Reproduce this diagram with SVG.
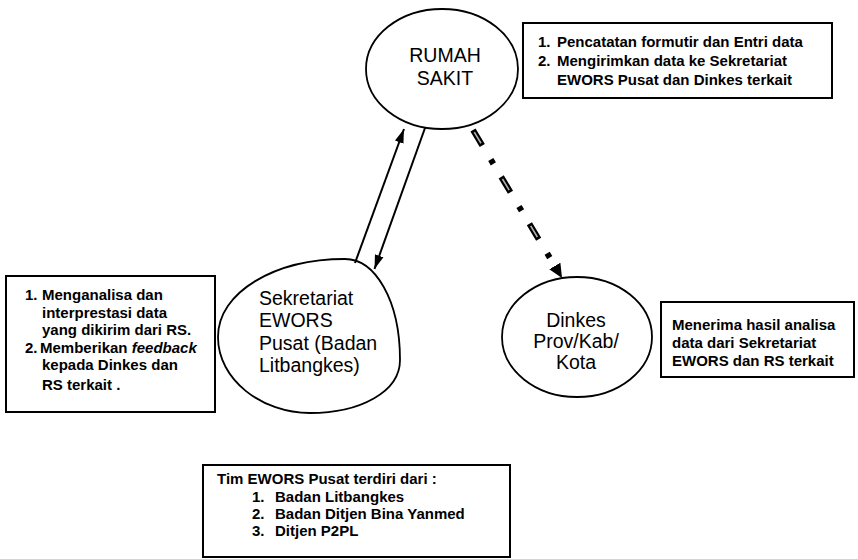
<svg xmlns="http://www.w3.org/2000/svg" width="858" height="559" viewBox="0 0 858 559">
  <style>
    .bg { fill: #ffffff; }
    .node { fill: none; stroke: #000; stroke-width: 1.8; }
    .box { fill: none; stroke: #000; stroke-width: 2; }
    .etext { font-family: "Liberation Sans", Arial, sans-serif; font-size: 19.5px; fill: #000; }
    .btext { font-family: "Liberation Sans", Arial, sans-serif; font-size: 15px; font-weight: bold; fill: #000; }
    .line { fill: none; stroke: #000; stroke-width: 2; }
    .dashout { fill: none; stroke: #000; stroke-width: 6; stroke-dasharray: 18 16.5 5 15.2; }
    .dashin { fill: none; stroke: #b0b0b0; stroke-width: 1.6; stroke-dasharray: 0 2.5 13 39.2; }
  </style>
  <defs>
    <marker id="arrow" markerUnits="userSpaceOnUse" markerWidth="15" markerHeight="10" refX="14" refY="5" orient="auto">
      <path d="M0,0.5 L14,5 L0,9.5 z" fill="#000"/>
    </marker>
    <marker id="arrowBig" markerUnits="userSpaceOnUse" markerWidth="15" markerHeight="14" refX="0" refY="7" orient="auto">
      <path d="M0,0.5 L14,7 L0,13.5 z" fill="#000"/>
    </marker>
  </defs>
  <rect class="bg" x="0" y="0" width="858" height="559"/>

  <g id="connectors">
    <line class="line" x1="355" y1="263" x2="404" y2="129" marker-end="url(#arrow)"/>
    <line class="line" x1="425" y1="128" x2="374.5" y2="269" marker-end="url(#arrow)"/>
    <path class="dashout" d="M473,130 L554.8,266" marker-end="url(#arrowBig)"/>
    <path class="dashin" d="M473,130 L554.8,266"/>
  </g>

  <g id="rumah-sakit">
    <ellipse class="node" cx="442" cy="69" rx="76" ry="60"/>
    <text class="etext" x="445" y="62" text-anchor="middle">RUMAH</text>
    <text class="etext" x="445" y="85" text-anchor="middle">SAKIT</text>
  </g>

  <g id="sekretariat">
    <path class="node" d="M218,337 C218,292 275,259 345,259 C375,259 400,300 400,360 C400,392 360,413 310,413 C262,413 218,380 218,337 Z"/>
    <text class="etext" x="259" y="305">Sekretariat</text>
    <text class="etext" x="259" y="327">EWORS</text>
    <text class="etext" x="259" y="350">Pusat (Badan</text>
    <text class="etext" x="259" y="372">Litbangkes)</text>
  </g>

  <g id="dinkes">
    <ellipse class="node" cx="577" cy="337" rx="75" ry="60"/>
    <text class="etext" x="576" y="327" text-anchor="middle">Dinkes</text>
    <text class="etext" x="576" y="348" text-anchor="middle">Prov/Kab/</text>
    <text class="etext" x="576" y="369" text-anchor="middle">Kota</text>
  </g>

  <g id="box-rs">
    <rect class="box" x="523" y="23" width="309" height="75"/>
    <text class="btext" x="538" y="47">1.</text>
    <text class="btext" x="557" y="47">Pencatatan formutir dan Entri data</text>
    <text class="btext" x="538" y="66">2.</text>
    <text class="btext" x="557" y="66">Mengirimkan data ke Sekretariat</text>
    <text class="btext" x="557" y="85">EWORS Pusat dan Dinkes terkait</text>
  </g>

  <g id="box-sekretariat">
    <rect class="box" x="6" y="276" width="209" height="136"/>
    <text class="btext" x="25" y="300">1.</text>
    <text class="btext" x="42" y="300">Menganalisa dan</text>
    <text class="btext" x="42" y="318">interprestasi data</text>
    <text class="btext" x="42" y="335">yang dikirim dari RS.</text>
    <text class="btext" x="25" y="353">2.</text>
    <text class="btext" x="40" y="353">Memberikan <tspan font-style="italic">feedback</tspan></text>
    <text class="btext" x="42" y="370">kepada Dinkes dan</text>
    <text class="btext" x="42" y="390">RS terkait .</text>
  </g>

  <g id="box-dinkes">
    <rect class="box" x="661" y="302" width="193" height="75"/>
    <text class="btext" x="672" y="330">Menerima hasil analisa</text>
    <text class="btext" x="672" y="348">data dari Sekretariat</text>
    <text class="btext" x="672" y="366">EWORS dan RS terkait</text>
  </g>

  <g id="box-tim">
    <rect class="box" x="203" y="465" width="307" height="92"/>
    <text class="btext" x="217" y="484">Tim EWORS Pusat terdiri dari :</text>
    <text class="btext" x="252" y="502">1.</text>
    <text class="btext" x="275" y="502">Badan Litbangkes</text>
    <text class="btext" x="252" y="519">2.</text>
    <text class="btext" x="275" y="519">Badan Ditjen Bina Yanmed</text>
    <text class="btext" x="252" y="536">3.</text>
    <text class="btext" x="275" y="536">Ditjen P2PL</text>
  </g>
</svg>
